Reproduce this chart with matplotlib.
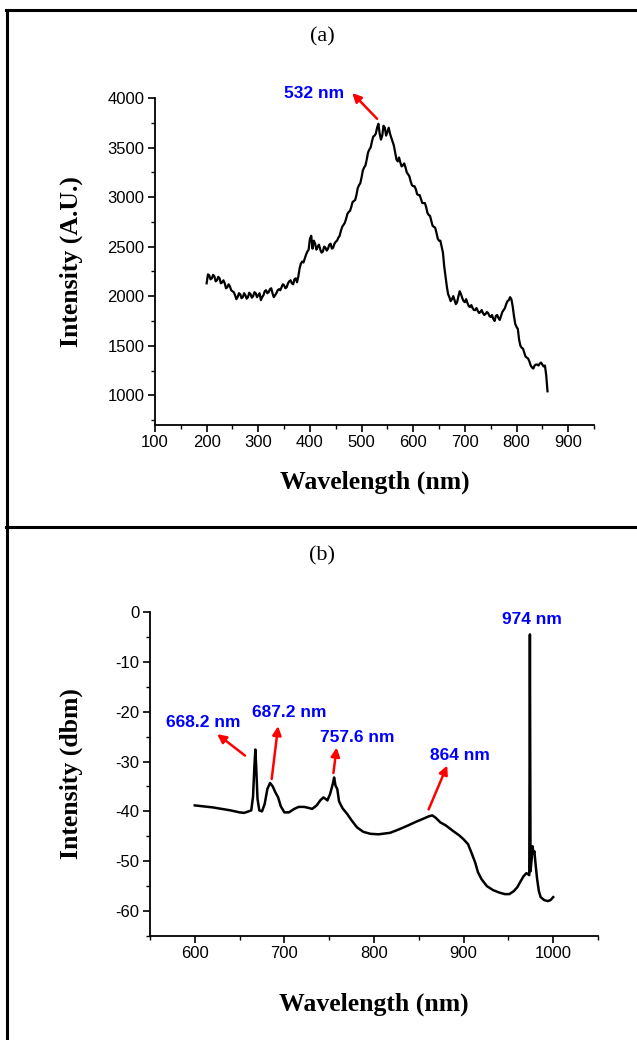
import numpy as np
import matplotlib.pyplot as plt
from matplotlib.lines import Line2D
from matplotlib.ticker import MultipleLocator

plt.rcParams['axes.unicode_minus'] = False

# ---- panel (a): spectrum, intensity in A.U. ----
# readings every 5 nm (200..860) and the in-between readings (202.5..857.5)
a_wl_main = np.arange(200, 861, 5)
a_int_main = [2130, 2210, 2180, 2200, 2160, 2180, 2140, 2130, 2090, 2100,
              2050, 2010, 1990, 2020, 1990, 2010, 1990, 2020, 2000, 2030,
              2010, 1960, 2010, 2060, 2040, 2080, 1990, 2030, 2070, 2090,
              2110, 2090, 2150, 2130, 2170, 2140, 2280, 2350, 2380, 2450,
              2580, 2480, 2530, 2500, 2470, 2450, 2490, 2480, 2530, 2490,
              2550, 2590, 2660, 2720, 2780, 2850, 2900, 2960, 3020, 3120,
              3200, 3300, 3380, 3480, 3560, 3620, 3700, 3640, 3620, 3700,
              3660, 3640, 3560, 3450, 3360, 3350, 3320, 3300, 3230, 3160,
              3110, 3080, 3020, 2980, 2940, 2900, 2820, 2760, 2700, 2640,
              2560, 2500, 2300, 2100, 1990, 1970, 1960, 1940, 2050, 1980,
              1940, 1930, 1890, 1880, 1860, 1850, 1840, 1830, 1820, 1830,
              1790, 1770, 1800, 1780, 1800, 1860, 1920, 1960, 1970, 1800,
              1690, 1560, 1480, 1430, 1380, 1340, 1280, 1300, 1310, 1320,
              1310, 1300, 1040]
a_int_mid = [2220, 2170, 2215, 2150, 2195, 2130, 2160, 2080, 2120, 2060,
             2040, 1970, 2030, 1980, 2030, 1975, 2035, 1985, 2040, 1990,
             2030, 1990, 2050, 2030, 2070, 2030, 2010, 2060, 2060, 2120,
             2080, 2130, 2160, 2120, 2180, 2200, 2330, 2340, 2420, 2470,
             2610, 2560, 2470, 2520, 2440, 2500, 2460, 2520, 2480, 2530,
             2560, 2610, 2700, 2740, 2830, 2860, 2950, 2970, 3090, 3140,
             3270, 3320, 3450, 3500, 3610, 3640, 3740, 3580, 3720, 3620,
             3700, 3600, 3520, 3380, 3400, 3310, 3340, 3250, 3210, 3120,
             3110, 3030, 3020, 2940, 2940, 2840, 2810, 2710, 2690, 2580,
             2560, 2440, 2200, 2020, 1950, 2000, 1920, 2000, 2020, 1950,
             1970, 1900, 1910, 1860, 1880, 1830, 1860, 1810, 1840, 1800,
             1810, 1750, 1810, 1760, 1840, 1880, 1950, 1990, 1900, 1720,
             1670, 1500, 1470, 1390, 1370, 1300, 1270, 1310, 1300, 1330,
             1290, 1200]

# ---- panel (b): spectrum, intensity in dbm ----
b_wl = [600, 610, 620, 630, 640, 650, 655, 660, 663, 665, 666.5, 667.6, 668.5,
        670, 672, 675, 678, 681, 684, 687, 690, 693, 696, 700, 705, 711, 716,
        722, 727, 731, 736, 740, 743.5, 746, 748, 751, 754, 755.5, 757, 759,
        761, 765, 770, 775, 781, 788, 796, 805, 818, 828, 837, 848, 856, 861,
        865, 869, 874, 880, 888, 895, 900, 905, 909, 913, 916, 920, 926, 933,
        940, 946, 951, 956, 960, 964, 967, 970, 972, 973.3, 974, 974.7, 976,
        977, 978, 979, 980, 982, 984, 986, 990, 994, 997, 1000]
b_int = [-38.8, -39.0, -39.2, -39.5, -39.8, -40.2, -40.3, -40.0, -39.8, -37.0,
         -31.0, -27.6, -31.0, -37.5, -39.8, -40.0, -38.5, -35.5, -34.3, -35.0,
         -36.2, -37.2, -39.0, -40.2, -40.2, -39.5, -39.1, -39.1, -39.3, -39.5,
         -38.8, -37.8, -37.2, -37.5, -37.8, -36.5, -34.5, -33.2, -34.8, -35.5,
         -38.0, -39.4, -40.5, -41.8, -43.2, -44.1, -44.5, -44.6, -44.3, -43.6,
         -42.9, -42.0, -41.4, -41.0, -40.8, -41.3, -42.2, -42.8, -43.9, -44.8,
         -45.6, -46.6, -48.4, -50.3, -52.2, -53.6, -55.0, -55.8, -56.3, -56.6,
         -56.6, -56.0, -55.2, -53.9, -53.0, -52.4, -52.6, -52.8, -4.5, -52.0,
         -49.5, -47.0, -48.5, -48.0, -50.0, -53.5, -56.0, -57.2, -57.8, -58.0,
         -57.8, -57.2]

# peak labels: text, text position, arrow tail (on curve), arrow head
a_peaks = [("532 nm", (408, 4050), (530, 3790), (482, 4050))]
b_peaks = [("668.2 nm", (609, -22.1), (656, -28.8), (625, -24.5)),
           ("687.2 nm", (705, -20.2), (685.8, -33.5), (693, -22.9)),
           ("757.6 nm", (781, -25.1), (754.7, -32.3), (758.3, -27.2)),
           ("864 nm", (895.5, -28.7), (861, -39.6), (881.7, -30.8))]
b_top_label = ("974 nm", (976, -1.6))

# interleave the 5 nm readings with the in-between ones
a_wl = np.ravel(np.column_stack([a_wl_main[:-1], a_wl_main[:-1] + 2.5]))
a_wl = np.append(a_wl, a_wl_main[-1])
a_int = np.ravel(np.column_stack([a_int_main[:-1], a_int_mid]))
a_int = np.append(a_int, a_int_main[-1])

W, H = 637, 1040
fig = plt.figure(figsize=(W / 100, H / 100), dpi=100)

tick_font = dict(family='Liberation Sans', size=12)
label_font = dict(family='Liberation Serif', size=18.5, weight='bold')
note_font = dict(family='Liberation Sans', size=12.5, weight='bold', color='blue')


def style_axes(ax):
    for side in ('top', 'right'):
        ax.spines[side].set_visible(False)
    for side in ('left', 'bottom'):
        ax.spines[side].set_linewidth(1.3)
    ax.tick_params(which='major', direction='out', length=5, width=1.2, pad=2.5)
    ax.tick_params(which='minor', direction='out', length=3, width=1.0)
    for lab in ax.get_xticklabels() + ax.get_yticklabels():
        lab.set_fontfamily(tick_font['family'])
        lab.set_fontsize(tick_font['size'])


def add_arrow(ax, tail, head):
    ax.annotate('', xy=head, xytext=tail, annotation_clip=False,
                arrowprops=dict(arrowstyle='-|>', color='red', lw=1.8,
                                mutation_scale=13, shrinkA=0, shrinkB=0))


# panel (a)
ax1 = fig.add_axes([155 / W, 1 - 425 / H, 439 / W, 327 / H])
ax1.plot(a_wl, a_int, color='black', lw=1.6)
ax1.set_xlim(100, 950)
ax1.set_ylim(700, 4000)
ax1.xaxis.set_major_locator(MultipleLocator(100))
ax1.xaxis.set_minor_locator(MultipleLocator(50))
ax1.yaxis.set_major_locator(MultipleLocator(500))
ax1.yaxis.set_minor_locator(MultipleLocator(250))
ax1.set_yticks([1000, 1500, 2000, 2500, 3000, 3500, 4000])
ax1.set_xticks(range(100, 901, 100))
style_axes(ax1)
ax1.set_xlabel('Wavelength (nm)', **label_font)
ax1.set_ylabel('Intensity (A.U.)', **label_font)
ax1.xaxis.set_label_coords(0.5, -0.14)
ax1.yaxis.set_label_coords(-0.165, 0.5)
for txt, tpos, tail, head in a_peaks:
    ax1.text(tpos[0], tpos[1], txt, ha='center', va='center', **note_font)
    add_arrow(ax1, tail, head)

# panel (b)
ax2 = fig.add_axes([150 / W, 1 - 936 / H, 448 / W, 324 / H])
ax2.plot(b_wl, b_int, color='black', lw=1.8)
ax2.set_xlim(550, 1050)
ax2.set_ylim(-65, 0)
ax2.xaxis.set_major_locator(MultipleLocator(100))
ax2.xaxis.set_minor_locator(MultipleLocator(50))
ax2.yaxis.set_major_locator(MultipleLocator(10))
ax2.yaxis.set_minor_locator(MultipleLocator(5))
ax2.set_xticks(range(600, 1001, 100))
ax2.set_yticks(range(-60, 1, 10))
style_axes(ax2)
ax2.set_xlabel('Wavelength (nm)', **label_font)
ax2.set_ylabel('Intensity (dbm)', **label_font)
ax2.xaxis.set_label_coords(0.5, -0.175)
ax2.yaxis.set_label_coords(-0.15, 0.5)
for txt, tpos, tail, head in b_peaks:
    ax2.text(tpos[0], tpos[1], txt, ha='center', va='center', **note_font)
    add_arrow(ax2, tail, head)
ax2.text(b_top_label[1][0], b_top_label[1][1], b_top_label[0],
         ha='center', va='center', clip_on=False, **note_font)

# panel titles
fig.text(322 / W, 1 - 37 / H, '(a)', ha='center', va='center',
         family='Liberation Serif', size=16)
fig.text(322 / W, 1 - 556 / H, '(b)', ha='center', va='center',
         family='Liberation Serif', size=16)

# outer frame lines
frame_lw = 2.2
fig.add_artist(Line2D([6 / W, 1], [1 - 10 / H, 1 - 10 / H], color='black', lw=frame_lw))
fig.add_artist(Line2D([7 / W, 7 / W], [0, 1 - 10 / H], color='black', lw=frame_lw))
fig.add_artist(Line2D([6 / W, 1], [1 - 527 / H, 1 - 527 / H], color='black', lw=frame_lw))

fig.savefig('out.png', dpi=100)
